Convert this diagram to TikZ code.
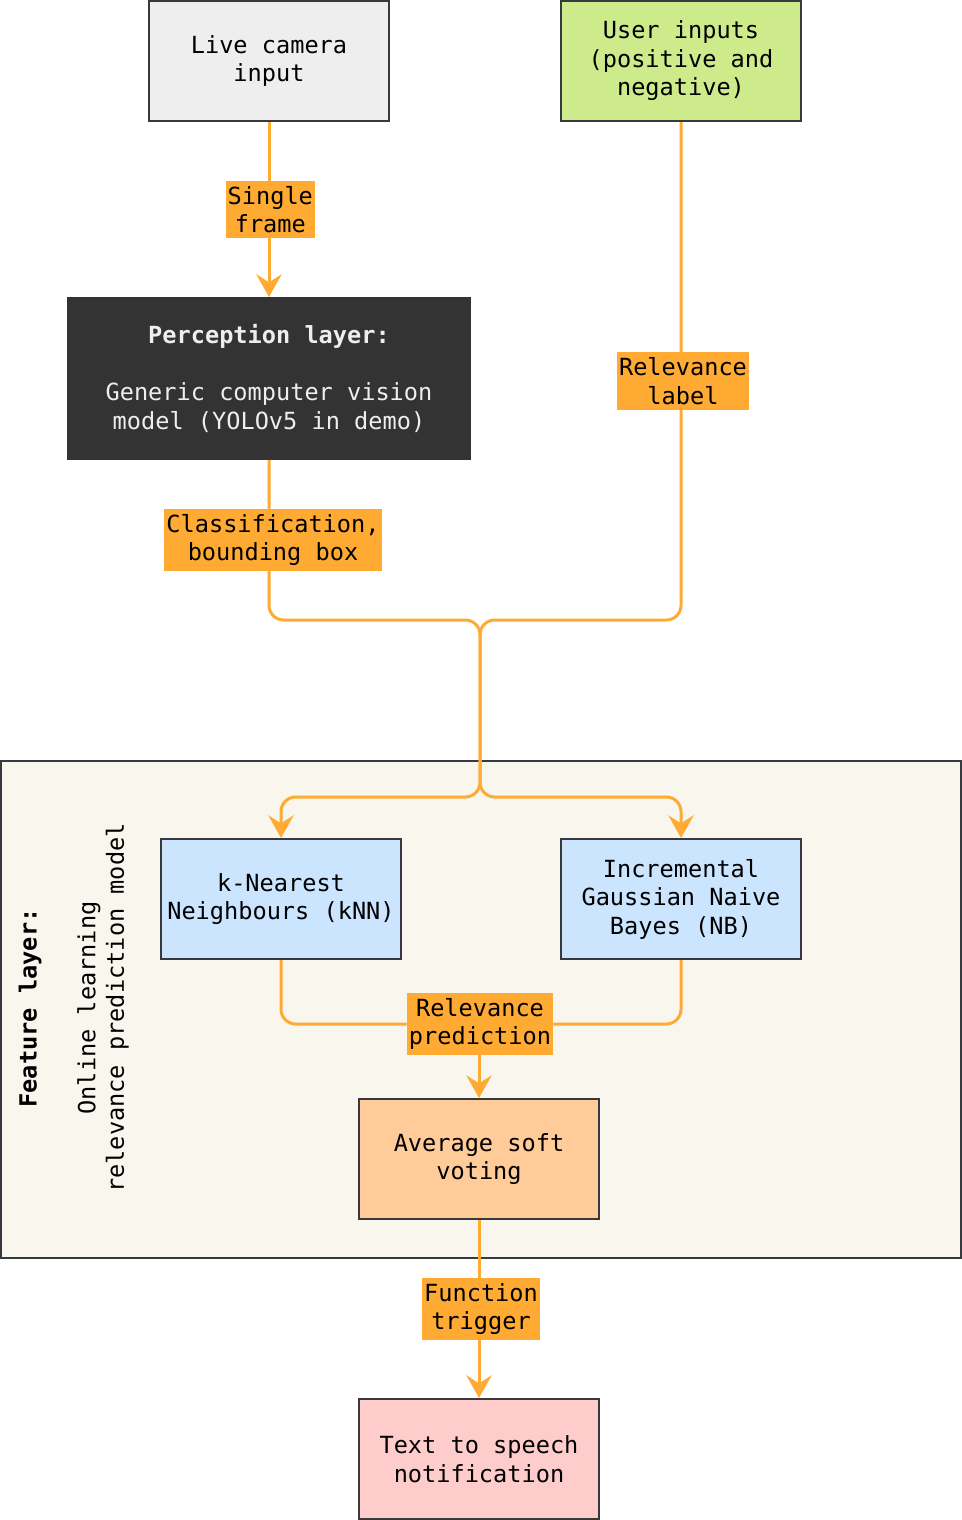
\documentclass[tikz,border=0pt]{standalone}
\usepackage{fontspec}
\setmainfont{DejaVu Sans Mono}
\usetikzlibrary{arrows.meta}

\definecolor{flow}{HTML}{FFAA33}
\definecolor{edgegray}{HTML}{36393D}
\definecolor{camfill}{HTML}{EEEEEE}
\definecolor{userfill}{HTML}{CDEB8B}
\definecolor{darkfill}{HTML}{333333}
\definecolor{layerfill}{HTML}{F9F7ED}
\definecolor{modelfill}{HTML}{CCE5FF}
\definecolor{votefill}{HTML}{FFCC99}
\definecolor{speechfill}{HTML}{FFCCCC}

\tikzset{
  block/.style={draw=edgegray, line width=1.5pt, minimum width=180pt, minimum height=90pt, align=center, inner sep=0pt},
  lbl/.style={fill=flow, sharp corners, align=center, inner xsep=1.5pt, inner ysep=4pt},
  wire/.style={draw=flow, line width=2.25pt, rounded corners=11pt},
  flowarrow/.style={wire, -{Stealth[length=17pt,width=19pt,inset=6pt]}}
}

\begin{document}
\begin{tikzpicture}[x=0.75pt, y=-0.75pt, font=\fontsize{17.7}{21.4}\selectfont]
\useasboundingbox (0,0) rectangle (962,1520);

% feature layer container
\node[draw=edgegray, fill=layerfill, line width=1.5pt, minimum width=720pt, minimum height=372.75pt, inner sep=0pt] (layer) at (481,1009.5) {};
\node[rotate=90, font=\fontsize{17.7}{21.4}\selectfont\bfseries] (feat) at (30,1008) {Feature layer:};
\node[rotate=90, align=center] (featsub) at (103,1008) {Online learning\\relevance prediction model};

% boxes
\node[block, fill=camfill] (cam) at (269,61) {Live camera\\input};
\node[block, fill=userfill] (user) at (681,61) {User inputs\\(positive and\\negative)};
\node[block, fill=darkfill, draw=darkfill, text=camfill, minimum width=301.5pt, minimum height=120.75pt] (percep) at (269,378.5)
  {{\bfseries Perception layer:}\\[21.4pt]Generic computer vision\\model (YOLOv5 in demo)};
\node[block, fill=modelfill] (knn) at (281,899) {k-Nearest\\Neighbours (kNN)};
\node[block, fill=modelfill] (nb) at (681,899) {Incremental\\Gaussian Naive\\Bayes (NB)};
\node[block, fill=votefill] (avg) at (479,1159) {Average soft\\voting};
\node[block, fill=speechfill] (tts) at (479,1459) {Text to speech\\notification};

% connectors
\coordinate (jointop) at (480,620);
\coordinate (jointbot) at (480,797);

\draw[flowarrow] (cam) -- node[lbl, xshift=1pt] (frame) {Single\\frame} (percep);
\draw[flowarrow] (percep.south) -- node[lbl, xshift=3pt] (clslbl) {Classification,\\bounding box} (percep.south |- jointop)
  -- (jointop) -- (jointbot) -- (knn.north |- jointbot) -- (knn.north);
\draw[flowarrow] (user.south) -- node[lbl, pos=0.52, xshift=1.5pt] (rellbl) {Relevance\\label} (user.south |- jointop)
  -- (jointop) -- (jointbot) -- (nb.north |- jointbot) -- (nb.north);

\node[lbl] (pred) at (480,1024) {Relevance\\prediction};
\draw[wire] (knn.south) |- (pred);
\draw[wire] (nb.south) |- (pred);
\draw[flowarrow] (pred.south -| avg) -- (avg);

\draw[flowarrow] (avg) -- node[lbl, xshift=1.5pt] (trig) {Function\\trigger} (tts);
\end{tikzpicture}
\end{document}
